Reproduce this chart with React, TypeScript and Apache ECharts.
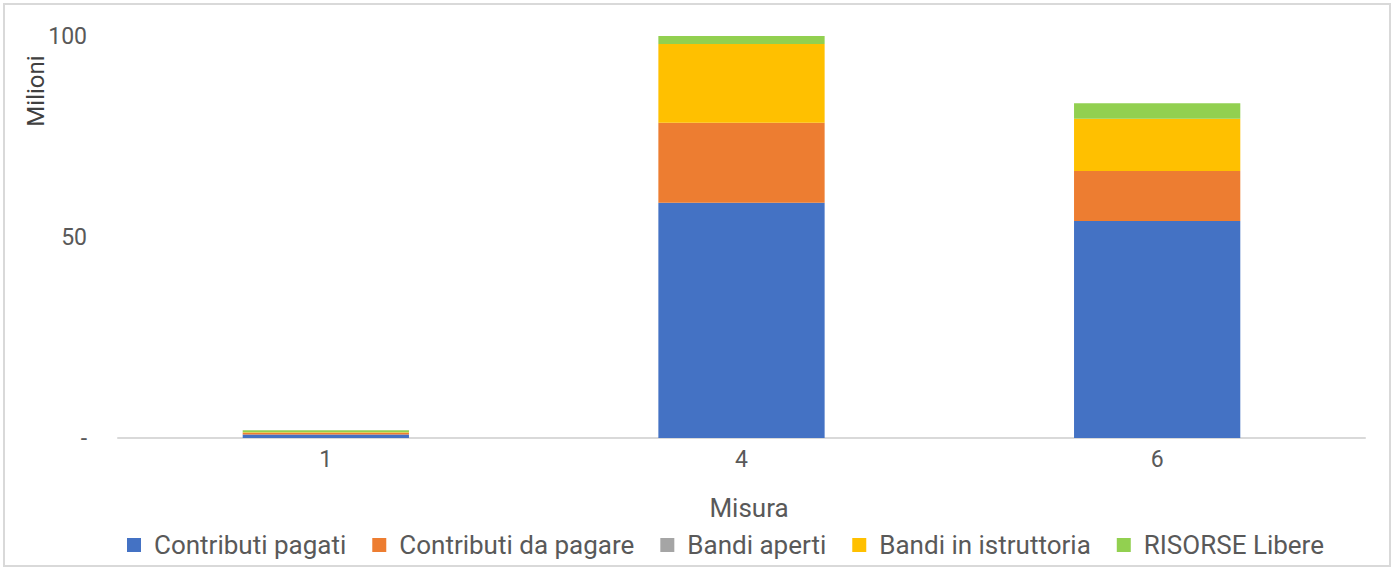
import React, { useEffect, useRef } from "react";
import * as echarts from "echarts";

const categories = ["1", "4", "6"];
const contributiPagati = [0.9, 58.5, 54.0];
const contributiDaPagare = [0.4, 19.9, 12.4];
const bandiAperti = [0, 0, 0];
const bandiInIstruttoria = [0.1, 19.6, 13.0];
const risorseLibere = [0.5, 2.0, 3.9];
const yTicks = [0, 50, 100];

const seriesDefs = [
  { name: "Contributi pagati", data: contributiPagati, color: "#4472C4" },
  { name: "Contributi da pagare", data: contributiDaPagare, color: "#ED7D31" },
  { name: "Bandi aperti", data: bandiAperti, color: "#A5A5A5" },
  { name: "Bandi in istruttoria", data: bandiInIstruttoria, color: "#FFC000" },
  { name: "RISORSE Libere", data: risorseLibere, color: "#92D050" },
];

export default function App() {
  const ref = useRef<HTMLDivElement>(null);
  useEffect(() => {
    if (!ref.current) return;
    const chart = echarts.init(ref.current, undefined, { renderer: "svg" });
    const font = "Roboto, 'Noto Sans', sans-serif";
    chart.setOption({
      animation: false,
      backgroundColor: "#ffffff",
      grid: { left: 118, right: 29, top: 36, bottom: 133 },
      legend: {
        left: 122,
        top: 527,
        itemWidth: 14,
        itemHeight: 14,
        itemGap: 26,
        icon: "rect",
        textStyle: { fontSize: 26, color: "#595959", fontFamily: font, padding: [0, 0, 0, 8] },
        data: seriesDefs.map((s) => s.name),
      },
      xAxis: {
        type: "category",
        data: categories,
        axisLine: { lineStyle: { color: "#d9d9d9", width: 2 } },
        axisTick: { show: false },
        axisLabel: { fontSize: 23, color: "#595959", fontFamily: font, margin: 10 },
      },
      yAxis: {
        type: "value",
        min: 0,
        max: 100,
        interval: 50,
        splitLine: { show: false },
        axisLine: { show: false },
        axisTick: { show: false },
        axisLabel: {
          fontSize: 23,
          color: "#595959",
          fontFamily: font,
          margin: 31,
          formatter: (v: number) => (v === yTicks[0] ? "-" : String(v)),
        },
      },
      graphic: [
        {
          type: "rect",
          shape: { x: 4, y: 4, width: 1386, height: 562 },
          style: { fill: "none", stroke: "#d9d9d9", lineWidth: 2 },
          silent: true,
        },
        {
          type: "text",
          x: 36,
          y: 91,
          rotation: Math.PI / 2,
          style: {
            text: "Milioni",
            fontSize: 24,
            fontFamily: font,
            fill: "#404040",
            align: "center",
            verticalAlign: "middle",
          },
        },
        {
          type: "text",
          x: 749,
          y: 508,
          style: {
            text: "Misura",
            fontSize: 26,
            fontFamily: font,
            fill: "#595959",
            align: "center",
            verticalAlign: "middle",
          },
        },
      ],
      series: seriesDefs.map((s) => ({
        name: s.name,
        type: "bar",
        stack: "total",
        barWidth: "40%",
        data: s.data,
        itemStyle: { color: s.color },
      })),
    });
    return () => chart.dispose();
  }, []);
  return (
    <div
      ref={ref}
      style={{ position: "absolute", left: 0, top: 0, width: 1394, height: 571 }}
    />
  );
}
